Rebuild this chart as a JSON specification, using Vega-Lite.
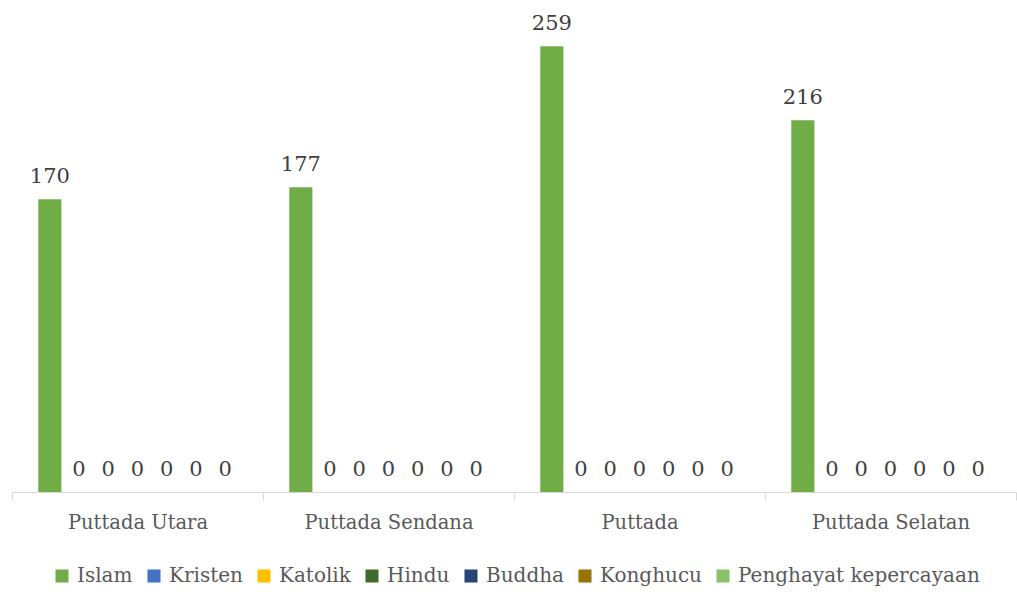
{
  "$schema": "https://vega.github.io/schema/vega-lite/v6.json",
  "width": 1004,
  "height": 482,
  "padding": {"left": 12, "top": 10, "right": 1, "bottom": 100},
  "autosize": {"type": "none"},
  "background": "white",
  "config": {"view": {"stroke": null}, "font": "DejaVu Serif"},
  "data": {"values": [
    {"desa": "Puttada Utara", "agama": "Islam", "jumlah": 170},
    {"desa": "Puttada Utara", "agama": "Kristen", "jumlah": 0},
    {"desa": "Puttada Utara", "agama": "Katolik", "jumlah": 0},
    {"desa": "Puttada Utara", "agama": "Hindu", "jumlah": 0},
    {"desa": "Puttada Utara", "agama": "Buddha", "jumlah": 0},
    {"desa": "Puttada Utara", "agama": "Konghucu", "jumlah": 0},
    {"desa": "Puttada Utara", "agama": "Penghayat kepercayaan", "jumlah": 0},
    {"desa": "Puttada Sendana", "agama": "Islam", "jumlah": 177},
    {"desa": "Puttada Sendana", "agama": "Kristen", "jumlah": 0},
    {"desa": "Puttada Sendana", "agama": "Katolik", "jumlah": 0},
    {"desa": "Puttada Sendana", "agama": "Hindu", "jumlah": 0},
    {"desa": "Puttada Sendana", "agama": "Buddha", "jumlah": 0},
    {"desa": "Puttada Sendana", "agama": "Konghucu", "jumlah": 0},
    {"desa": "Puttada Sendana", "agama": "Penghayat kepercayaan", "jumlah": 0},
    {"desa": "Puttada", "agama": "Islam", "jumlah": 259},
    {"desa": "Puttada", "agama": "Kristen", "jumlah": 0},
    {"desa": "Puttada", "agama": "Katolik", "jumlah": 0},
    {"desa": "Puttada", "agama": "Hindu", "jumlah": 0},
    {"desa": "Puttada", "agama": "Buddha", "jumlah": 0},
    {"desa": "Puttada", "agama": "Konghucu", "jumlah": 0},
    {"desa": "Puttada", "agama": "Penghayat kepercayaan", "jumlah": 0},
    {"desa": "Puttada Selatan", "agama": "Islam", "jumlah": 216},
    {"desa": "Puttada Selatan", "agama": "Kristen", "jumlah": 0},
    {"desa": "Puttada Selatan", "agama": "Katolik", "jumlah": 0},
    {"desa": "Puttada Selatan", "agama": "Hindu", "jumlah": 0},
    {"desa": "Puttada Selatan", "agama": "Buddha", "jumlah": 0},
    {"desa": "Puttada Selatan", "agama": "Konghucu", "jumlah": 0},
    {"desa": "Puttada Selatan", "agama": "Penghayat kepercayaan", "jumlah": 0}
  ]},
  "encoding": {
    "x": {
      "field": "desa", "type": "nominal", "sort": null,
      "scale": {"paddingInner": 0, "paddingOuter": 0},
      "axis": {
        "title": null, "labelAngle": 0, "labelFontSize": 19.5, "labelColor": "#595959",
        "labelPadding": 13, "domainColor": "#d9d9d9", "tickColor": "#d9d9d9",
        "tickBand": "extent", "tickSize": 8, "labelFont": "DejaVu Serif"
      }
    },
    "xOffset": {
      "field": "agama", "type": "nominal", "sort": null,
      "scale": {"paddingInner": 0.21, "paddingOuter": 0.9}
    },
    "y": {
      "field": "jumlah", "type": "quantitative",
      "scale": {"domain": [0, 280], "nice": false},
      "axis": null
    }
  },
  "layer": [
    {
      "mark": {"type": "bar"},
      "encoding": {
        "color": {
          "field": "agama", "type": "nominal", "sort": null,
          "scale": {
            "domain": ["Islam", "Kristen", "Katolik", "Hindu", "Buddha", "Konghucu", "Penghayat kepercayaan"],
            "range": ["#70AD47", "#4472C4", "#FFC000", "#43682B", "#264478", "#997300", "#8CC168"]
          },
          "legend": {
            "title": null, "orient": "none", "legendX": 40, "legendY": 556, "direction": "horizontal",
            "symbolType": "square", "symbolSize": 170, "symbolStrokeWidth": 0,
            "labelFontSize": 20, "labelColor": "#595959", "labelFont": "DejaVu Serif",
            "labelLimit": 400, "columnPadding": 11, "labelOffset": 5
          }
        }
      }
    },
    {
      "mark": {"type": "text", "baseline": "bottom", "dy": -12, "fontSize": 21, "color": "#404040"},
      "encoding": {"text": {"field": "jumlah", "type": "quantitative"}}
    }
  ]
}
